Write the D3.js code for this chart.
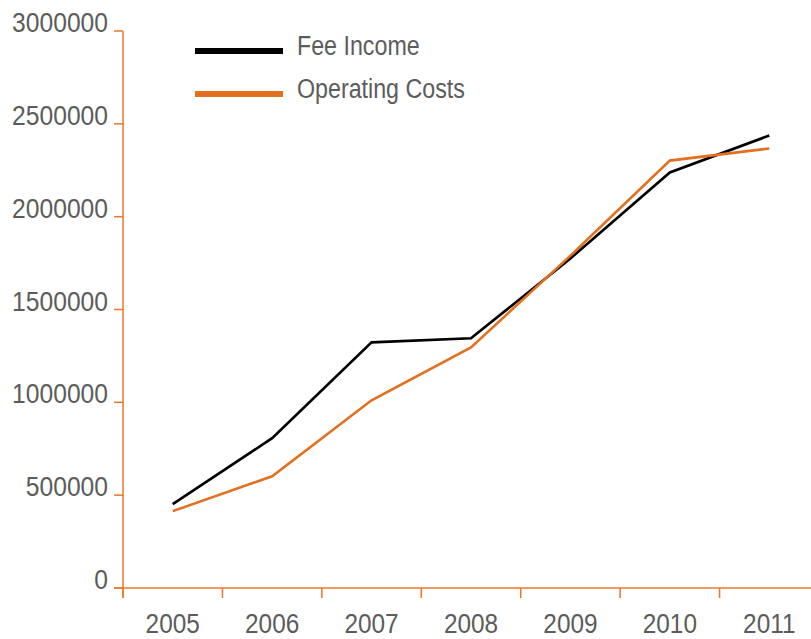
<!DOCTYPE html>
<html lang="en">
  <head>
    <meta charset="utf-8">
    <script src="https://d3js.org/d3.v7.min.js"></script>
    <title>Fee Income vs Operating Costs</title>
    <style>
      body { margin: 0; background: #fff; }
      text { font-family: "Liberation Sans", Arial, sans-serif; fill: #5c5c5c; }
    </style>
  </head>
  <body>
    <script>
      var years = ["2005", "2006", "2007", "2008", "2009", "2010", "2011"];
      var feeIncome = [452000, 807000, 1323000, 1345000, 1775000, 2238000, 2437000];
      var operatingCosts = [414000, 602000, 1011000, 1296000, 1790000, 2302000, 2367000];
      var yTicks = [0, 500000, 1000000, 1500000, 2000000, 2500000, 3000000];
      var seriesNames = ["Fee Income", "Operating Costs"];
      var seriesColors = ["#000000", "#e2701f"];
      var axisColor = "#e8782c";

      var width = 811, height = 639;
      var svg = d3.select("body").append("svg")
        .attr("width", width)
        .attr("height", height);

      var x = d3.scaleBand().domain(years).range([123, 819]);
      var y = d3.scaleLinear().domain([0, 3000000]).range([588, 31]);

      // condensed look: squeeze text horizontally
      function label(g, tx, ty, size, sx, anchor, str) {
        return g.append("text")
          .attr("transform", "translate(" + tx + "," + ty + ") scale(" + sx + ",1)")
          .attr("text-anchor", anchor)
          .attr("font-size", size)
          .text(str);
      }

      // y axis
      var yAxis = svg.append("g");
      yAxis.append("line").attr("x1", 123).attr("x2", 123).attr("y1", y(3000000)).attr("y2", 598)
        .attr("stroke", axisColor).attr("stroke-width", 1.5);
      yTicks.forEach(function (t){
        yAxis.append("line").attr("x1", 114).attr("x2", 123).attr("y1", y(t)).attr("y2", y(t))
          .attr("stroke", axisColor).attr("stroke-width", 1.5);
        label(yAxis, 108, y(t) + 1, 28, 0.88, "end", d3.format("d")(t));
      });

      // x axis with ticks at band boundaries
      var xAxis = svg.append("g").attr("transform", "translate(0,588)");
      xAxis.append("line").attr("x1", 114).attr("x2", width).attr("y1", 0).attr("y2", 0)
        .attr("stroke", axisColor).attr("stroke-width", 1.5);
      years.forEach(function (d){
        xAxis.append("line").attr("x1", x(d)).attr("x2", x(d)).attr("y1", 0).attr("y2", 10)
          .attr("stroke", axisColor).attr("stroke-width", 1.5);
        label(xAxis, x(d) + x.bandwidth() / 2, 45, 28, 0.87, "middle", d);
      });

      var line = d3.line()
        .x(function (d, i){ return x(years[i]) + x.bandwidth() / 2; })
        .y(function (d){ return y(d); });

      [feeIncome, operatingCosts].forEach(function (vals, i){
        svg.append("path").datum(vals)
          .attr("fill", "none")
          .attr("stroke", seriesColors[i])
          .attr("stroke-width", 2.6)
          .attr("d", line);
      });

      // legend
      var legend = svg.append("g").attr("transform", "translate(195,51)");
      seriesNames.forEach(function (name, i){
        var g = legend.append("g").attr("transform", "translate(0," + (i * 43) + ")");
        g.append("line").attr("x1", 0).attr("x2", 88).attr("y1", 0).attr("y2", 0)
          .attr("stroke", seriesColors[i]).attr("stroke-width", 6);
        label(g, 102, 4, 28, 0.83, "start", name);
      });
    </script>
  </body>
</html>
